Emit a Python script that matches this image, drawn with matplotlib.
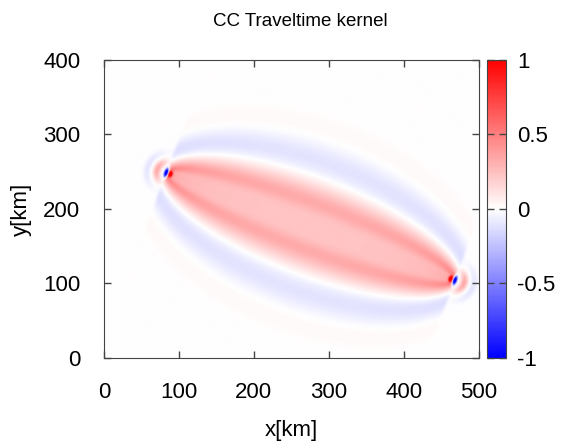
import numpy as np
import matplotlib.pyplot as plt

plt.rcParams['font.family'] = ['Liberation Sans', 'DejaVu Sans']

# source / receiver positions [km]
source = (86.0, 247.0)
receiver = (465.0, 105.0)

# kernel shape parameters
fresnel_half = 42.0      # path excess [km] for a half period of the kernel
decay = 27.0             # decay length of the side lobes [km]
main_amp = 0.46          # amplitude of the main lobe at the midpoint
hollow = 0.5             # depth of the dip along the ray
arc_radius = [16.0, 29.0]
arc_amp = [0.34, -0.10]
spot_amp = [1.4, -1.8]   # red spot inside, blue spot outside each end point
spot_offset = [2.5, -3.0]

x_ticks = [0, 100, 200, 300, 400, 500]
y_ticks = [0, 100, 200, 300, 400]
cb_ticks = [-1, -0.5, 0, 0.5, 1]

# grid
xs = np.linspace(0, 500, 1001)
ys = np.linspace(0, 400, 801)
X, Y = np.meshgrid(xs, ys)

sx, sy = source
rx, ry = receiver
L = np.hypot(rx - sx, ry - sy)
ux, uy = (rx - sx) / L, (ry - sy) / L
vx, vy = -uy, ux

d1 = np.hypot(X - sx, Y - sy) + 1.0
d2 = np.hypot(X - rx, Y - ry) + 1.0
s = d1 + d2 - L - 2.0

# along-ray coordinate, used to fade the main lobes behind the end points
t = (X - sx) * ux + (Y - sy) * uy
behind = np.clip(-t, 0, None) + np.clip(t - L, 0, None)
fade = np.exp(-(behind / 4.0) ** 2)

amp = (L / (d1 * d2)) ** 0.15 / (4.0 / L) ** 0.15
lobe = np.cos(np.pi * s / fresnel_half) * np.exp(-s / decay)
lobe *= 1 - hollow * np.exp(-(s / 3.5) ** 2)
K = main_amp * amp * lobe * fade

# near field around each end point: red/blue spots + arcs behind it
for (ex, ey), sign in [(source, 1.0), (receiver, -1.0)]:
    a = ((X - ex) * ux + (Y - ey) * uy) * sign
    b = (X - ex) * vx + (Y - ey) * vy
    K += spot_amp[0] * np.exp(-0.5 * ((a - spot_offset[0]) / 1.8) ** 2 - 0.5 * (b / 2.5) ** 2)
    K += spot_amp[1] * np.exp(-0.5 * ((a - spot_offset[1]) / 1.8) ** 2 - 0.5 * (b / 4.0) ** 2)
    r = np.hypot(a, b) + 1e-6
    back = np.clip(-a / r, 0, None) ** 1.5
    for r0, ar in zip(arc_radius, arc_amp):
        K += ar * back * np.exp(-((r - r0) / 5.0) ** 2)

K = np.clip(K, -1, 1)

fig = plt.figure(figsize=(5.62, 4.44), dpi=100)
ax = fig.add_axes([0.185, 0.1937, 0.667, 0.6712])
cax = fig.add_axes([0.8665, 0.1937, 0.0338, 0.6712])

im = ax.imshow(K, extent=[0, 500, 0, 400], origin='lower', cmap='bwr',
               vmin=-1, vmax=1, aspect='auto', interpolation='bilinear')

ax.set_xlim(0, 500)
ax.set_ylim(0, 400)
ax.set_xticks(x_ticks)
ax.set_yticks(y_ticks)
ax.tick_params(direction='in', length=5, width=1, colors='#444444',
               labelcolor='black', labelsize=16, top=True, right=True)
ax.tick_params(axis='x', pad=17)
ax.tick_params(axis='y', pad=17)
for sp in ax.spines.values():
    sp.set_color('#444444')
ax.set_xlabel('x[km]', fontsize=16, labelpad=12.5)
ax.set_ylabel('y[km]', fontsize=16, labelpad=8)
fig.text(0.535, 0.952, 'CC Traveltime kernel', fontsize=13.5,
         ha='center', va='center')

cb = fig.colorbar(im, cax=cax, ticks=cb_ticks)
cb.ax.set_yticklabels(['-1', '-0.5', '0', '0.5', '1'])
cb.ax.tick_params(direction='in', length=5, width=1, colors='#444444',
                  labelcolor='black', labelsize=16, left=True, right=True, pad=8)
cb.outline.set_edgecolor('#444444')

fig.savefig('out.png', dpi=100)
